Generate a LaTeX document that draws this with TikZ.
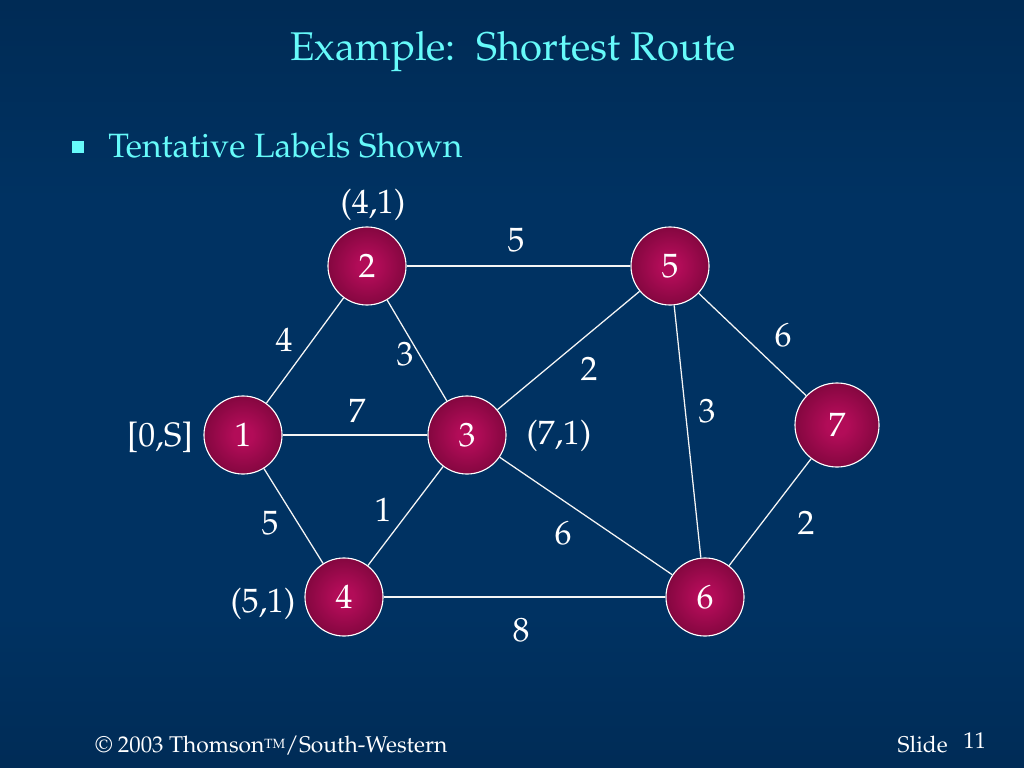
\documentclass[tikz,border=0pt]{standalone}
\usepackage[T1]{fontenc}
\usepackage{mathpazo}
\usepackage{xcolor}
\usepackage{tikz}
\usetikzlibrary{positioning}
\definecolor{bgout}{RGB}{0,24,50}
\definecolor{bgmid}{RGB}{0,50,98}
\definecolor{nodein}{RGB}{178,12,88}
\definecolor{nodeout}{RGB}{72,0,32}
\definecolor{titlecyan}{RGB}{102,250,250}
\pgfdeclareverticalshading{slidebg}{100bp}{color(0bp)=(bgout); color(10bp)=(bgout!60!bgmid); color(35bp)=(bgmid); color(62bp)=(bgmid); color(88bp)=(bgout!55!bgmid); color(100bp)=(bgout)}
\pgfdeclareradialshading{citybulb}{\pgfpoint{0bp}{0bp}}{color(0bp)=(nodein); color(6bp)=(nodein); color(50bp)=(nodeout)}

\begin{document}
\begin{tikzpicture}[x=0.025cm, y=-0.025cm,
  city/.style={circle, draw=white, line width=0.8pt, shading=citybulb, inner sep=0pt, text=white, font=\fontsize{24}{27}\selectfont},
  road/.style={draw=white!92!gray, line width=0.9pt},
  wt/.style={text=white, font=\fontsize{24}{27}\selectfont},
  tag/.style={text=white, font=\fontsize{24}{27}\selectfont},
  foot/.style={text=white, font=\fontsize{16.2}{18}\selectfont}]
  \useasboundingbox (0,0) rectangle (1024,768);
  \shade[shading=slidebg] (0,0) rectangle (1024,768);
  % heading
  \node[text=titlecyan, font=\fontsize{28.5}{32}\selectfont] (title) at (513,52) {Example:\ \ Shortest Route};
  \node[fill=titlecyan, inner sep=0pt, minimum size=0.32cm] (bullet) at (78,147) {};
  \node[text=titlecyan, anchor=base west, inner sep=0pt, font=\fontsize{24}{28}\selectfont] (point) at (108,157) {Tentative Labels Shown};
  % network
  \foreach \n/\px/\py/\d in {1/243/435/1.95, 2/367/266/1.95, 3/467/435/1.95, 4/344/597/1.95,
                            5/670/266/1.95, 6/705/597/1.95, 7/837/425/2.1}
    \node[city, minimum size=\d cm] (c\n) at (\px,\py) {\n};
  \foreach \a/\b/\w/\px/\py in {1/2/4/284/340, 1/3/7/357/411, 1/4/5/270/523, 2/3/3/405/354,
                               2/5/5/516/240, 3/4/1/383/510, 3/5/2/589/369, 3/6/6/563/533,
                               4/6/8/521/630, 5/6/3/707/411, 5/7/6/783/335, 6/7/2/806/523} {
    \draw[road] (c\a) -- (c\b);
    \node[wt] (w\a\b) at (\px,\py) {\w};}
  % tentative labels
  \node[tag] (t1) at (160,437) {[0,S]};
  \node[tag] (t2) at (373,205) {(4,1)};
  \node[tag] (t3) at (559,436) {(7,1)};
  \node[tag] (t4) at (263,604) {(5,1)};
  % footer
  \node[foot, anchor=base west, inner sep=0pt] (copy) at (95,752) {\textcopyright\ 2003 Thomson{\fontsize{9.5}{10}\selectfont\raisebox{0.55ex}{TM}}/South-Western};
  \node[foot, anchor=base east, inner sep=0pt] (slide) at (948,752) {Slide};
  \node[foot, anchor=base west, inner sep=0pt] (num) at (963,748) {11};
\end{tikzpicture}
\end{document}
